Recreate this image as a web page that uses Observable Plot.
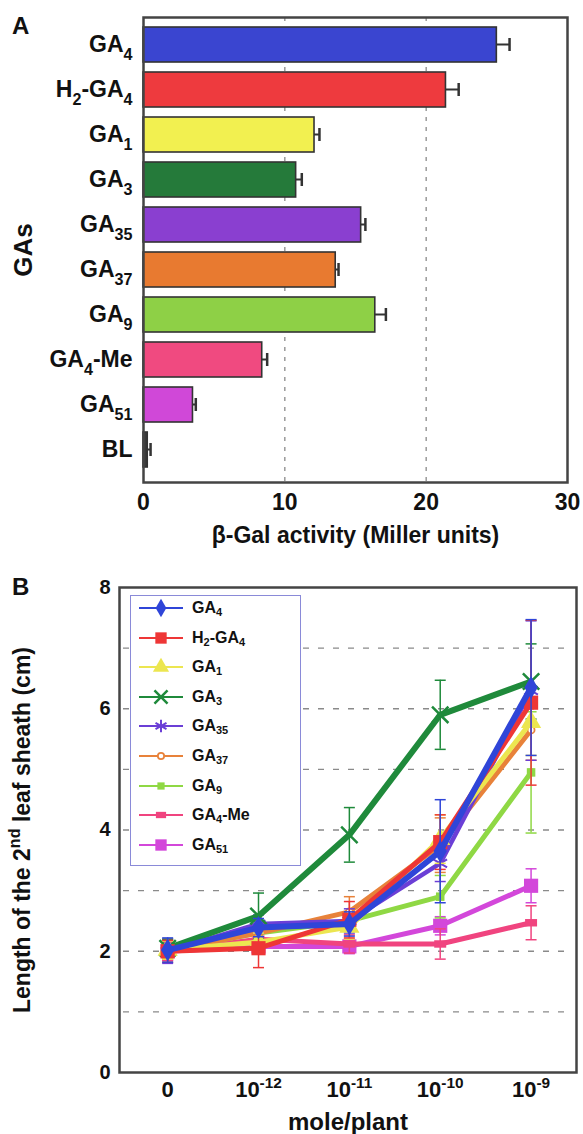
<!DOCTYPE html>
<html><head><meta charset="utf-8">
<script src="https://cdn.jsdelivr.net/npm/d3@7"></script>
<script src="https://cdn.jsdelivr.net/npm/@observablehq/plot@0.6"></script>
<style>
body{margin:0;background:#fff;font-family:"Liberation Sans",Arial,sans-serif;color:#111;}
#wrap{position:relative;width:583px;height:1134px;overflow:hidden;}
#wrap svg{display:block;}
.letter{position:absolute;font-weight:bold;font-size:24px;line-height:1;}
#legend{position:absolute;left:130px;top:595px;width:171px;height:271px;border:1px solid #8a8ad8;box-sizing:border-box;background:#fff;}
.lrow{position:absolute;left:0;height:24px;width:168px;}
.lrow svg{position:absolute;left:0;top:0;}
.lrow span{position:absolute;left:61px;top:3px;font-weight:bold;font-size:16px;white-space:nowrap;}
.lrow sub{font-size:11px;vertical-align:-3px;line-height:0;}
</style></head><body><div id="wrap"></div>
<script>
// ---------- Panel A data ----------
const gaNames = ["GA4","H2-GA4","GA1","GA3","GA35","GA37","GA9","GA4-Me","GA51","BL"];
const galActivity = [25.0, 21.4, 12.1, 10.8, 15.4, 13.6, 16.4, 8.4, 3.5, 0.3];
const galError = [0.9, 0.9, 0.35, 0.4, 0.3, 0.2, 0.75, 0.35, 0.2, 0.2];
const barColors = ["#3a45d0","#ee3a3e","#f2f050","#257a3a","#8a3fd0","#e87a30","#8ed046","#f04a80","#d048d8","#3a3a3a"];
const galTicks = [0, 10, 20, 30];
const galGrid = [10, 20];

// ---------- Panel B data ----------
const doseIdx = [0, 1, 2, 3, 4];
const doseBase = ["0", "10", "10", "10", "10"];
const doseExp = ["", "-12", "-11", "-10", "-9"];
const lenTicks = [0, 2, 4, 6, 8];
const lenGrid = [1, 2, 3, 4, 5, 6, 7];
const seriesNames = ["GA4","H2-GA4","GA1","GA3","GA35","GA37","GA9","GA4-Me","GA51"];
const seriesColors = ["#2f45d8","#ee3636","#ece650","#1f8a3b","#6b3fd6","#e8823a","#8fd844","#f0447f","#d347da"];
const lenGA4   = [2.02, 2.39, 2.45, 3.65, 6.35];
const errGA4   = [0.20, 0.15, 0.20, 0.85, 1.12];
const lenH2GA4 = [2.00, 2.05, 2.52, 3.80, 6.10];
const errH2GA4 = [0.18, 0.32, 0.30, 0.45, 1.36];
const lenGA1   = [2.02, 2.15, 2.40, 3.85, 5.78];
const errGA1   = [0.15, 0.15, 0.20, 0.40, 0.55];
const lenGA3   = [2.05, 2.58, 3.92, 5.90, 6.45];
const errGA3   = [0.15, 0.38, 0.45, 0.57, 0.62];
const lenGA35  = [2.00, 2.45, 2.50, 3.45, 6.30];
const errGA35  = [0.20, 0.15, 0.20, 0.30, 1.15];
const lenGA37  = [2.02, 2.30, 2.65, 3.75, 5.65];
const errGA37  = [0.15, 0.20, 0.25, 0.45, 0.50];
const lenGA9   = [2.03, 2.30, 2.50, 2.90, 4.95];
const errGA9   = [0.15, 0.10, 0.15, 0.35, 1.00];
const lenGA4Me = [2.00, 2.20, 2.12, 2.12, 2.47];
const errGA4Me = [0.15, 0.15, 0.15, 0.25, 0.28];
const lenGA51  = [2.00, 2.08, 2.08, 2.42, 3.08];
const errGA51  = [0.15, 0.10, 0.12, 0.15, 0.28];
const seriesLen = [lenGA4, lenH2GA4, lenGA1, lenGA3, lenGA35, lenGA37, lenGA9, lenGA4Me, lenGA51];
const seriesErr = [errGA4, errH2GA4, errGA1, errGA3, errGA35, errGA37, errGA9, errGA4Me, errGA51];

// ---------- styles ----------
const FONT = "Liberation Sans, Arial, Helvetica, sans-serif";
const hLine = {draw(ctx, size){const r = Math.sqrt(size/Math.PI); ctx.moveTo(-r,0); ctx.lineTo(r,0);}};
const wideRect = {draw(ctx, size){const r = Math.sqrt(size/Math.PI); ctx.rect(-r, -r*0.62, 2*r, 1.24*r);}};
const markerStyle = [
  {symbol:"diamond", r:7, filled:true},
  {symbol:"square", r:8, filled:true},
  {symbol:"triangle", r:7.5, filled:true},
  {symbol:"times", r:7.5, filled:false, sw:2.5},
  {symbol:"asterisk", r:7.5, filled:false, sw:2},
  {symbol:"circle", r:3.5, filled:false, sw:1.8, bg:"#fff"},
  {symbol:"square", r:4.8, filled:true},
  {symbol:wideRect, r:6, filled:true},
  {symbol:"square", r:8, filled:true}
];
const lineW = [6, 5, 5, 6, 4.5, 5, 5, 5, 5];

// rich text helper (sub/superscripts as tspans)
const SVGNS = "http://www.w3.org/2000/svg";
function setRich(el, segs, fs) {
  el.textContent = "";
  let shift = 0;
  for (const s of segs) {
    const ts = document.createElementNS(SVGNS, "tspan");
    const target = s.sub ? fs*0.32 : s.sup ? -fs*0.42 : 0;
    ts.setAttribute("dy", (target - shift).toFixed(2));
    shift = target;
    if (s.sub || s.sup) ts.setAttribute("font-size", (fs*0.7).toFixed(1));
    ts.textContent = s.t;
    el.appendChild(ts);
  }
}
const subSegs = str => str.split(/(\d+)/).filter(p => p.length).map(p => /^\d+$/.test(p) ? {t:p, sub:true} : {t:p});

const wrap = document.getElementById("wrap");

// ---------- Panel A ----------
const tableA = gaNames.map((n,i) => ({name:n, value:galActivity[i], err:galError[i], color:barColors[i]}));
const plotA = Plot.plot({
  width:583, height:560, marginTop:17, marginBottom:78, marginLeft:143, marginRight:16,
  style:{fontFamily:FONT, fontWeight:"bold", fontSize:"22px", color:"#111", background:"#fff", overflow:"visible"},
  x:{domain:[0,30]},
  y:{domain:gaNames, paddingInner:0.23, paddingOuter:0.23, align:0.38},
  marks:[
    Plot.ruleX(galGrid, {stroke:"#8a8a8a", strokeWidth:1.3, strokeDasharray:"4,6"}),
    Plot.barX(tableA, {y:"name", x1:"value", x2:d => d.value + d.err, fill:"#333", insetTop:16.5, insetBottom:16.5}),
    Plot.tickX(tableA, {y:"name", x:d => d.value + d.err, stroke:"#333", strokeWidth:2.5, insetTop:11, insetBottom:11}),
    Plot.barX(tableA, {y:"name", x:"value", fill:"color", stroke:"#333", strokeWidth:1.6}),
    Plot.frame({stroke:"#444", strokeWidth:2.5}),
    Plot.axisX({ticks:galTicks, tickSize:0, tickPadding:11, fontSize:23, label:"β-Gal activity (Miller units)", labelAnchor:"center", labelOffset:60, labelArrow:"none"}),
    Plot.axisY({tickSize:0, tickPadding:11, fontSize:23, label:"GAs", labelAnchor:"center", labelOffset:130, labelArrow:"none"})
  ]
});
wrap.appendChild(plotA);
d3.select(plotA).selectAll('[aria-label="y-axis tick label"] text').each(function(){
  setRich(this, subSegs(this.textContent), 23);
});
d3.select(plotA).selectAll('[aria-label="x-axis label"] text').attr("font-size", 23);
d3.select(plotA).selectAll('[aria-label="y-axis label"] text').attr("font-size", 26);

// ---------- Panel B ----------
const tableB = [];
seriesNames.forEach((n,i) => doseIdx.forEach((d,j) => tableB.push({series:n, dose:d, len:seriesLen[i][j], err:seriesErr[i][j]})));
const marksB = [Plot.ruleY(lenGrid, {stroke:"#8a8a8a", strokeWidth:1.3, strokeDasharray:"6,9", insetLeft:4, insetRight:9})];
for (let i = seriesNames.length - 1; i >= 0; i--) {
  const rows = tableB.filter(d => d.series === seriesNames[i]);
  const c = seriesColors[i], ms = markerStyle[i];
  marksB.push(
    Plot.ruleX(rows, {x:"dose", y1:d => d.len - d.err, y2:d => d.len + d.err, stroke:c, strokeWidth:1.5}),
    Plot.dot(rows, {x:"dose", y:d => d.len + d.err, symbol:hLine, r:5.5, stroke:c, strokeWidth:1.5, fill:"none"}),
    Plot.dot(rows, {x:"dose", y:d => d.len - d.err, symbol:hLine, r:5.5, stroke:c, strokeWidth:1.5, fill:"none"}),
    Plot.line(rows, {x:"dose", y:"len", stroke:c, strokeWidth:lineW[i]}),
    Plot.dot(rows, {x:"dose", y:"len", symbol:ms.symbol, r:ms.r,
      fill: ms.filled ? c : (ms.bg || "none"), stroke: ms.filled ? "none" : c, strokeWidth: ms.sw || 1})
  );
}
marksB.push(
  Plot.frame({stroke:"#444", strokeWidth:2.5}),
  Plot.axisX({ticks:doseIdx, tickFormat:i => doseBase[i] + "|" + doseExp[i], tickSize:0, tickPadding:9, fontSize:22,
    label:"mole/plant", labelAnchor:"center", labelOffset:57, labelArrow:"none"}),
  Plot.axisY({ticks:lenTicks, tickSize:0, tickPadding:9, fontSize:20,
    label:"Length of the 2nd leaf sheath (cm)", labelAnchor:"center", labelOffset:106, labelArrow:"none"})
);
const plotB = Plot.plot({
  width:583, height:574, marginTop:27, marginBottom:62, marginLeft:119, marginRight:7,
  style:{fontFamily:FONT, fontWeight:"bold", fontSize:"20px", color:"#111", background:"#fff", overflow:"visible"},
  x:{domain:[-0.53, 4.5]},
  y:{domain:[0, 8]},
  marks: marksB
});
wrap.appendChild(plotB);
d3.select(plotB).selectAll('[aria-label="x-axis tick label"] text').each(function(){
  const [b, e] = this.textContent.split("|");
  setRich(this, e ? [{t:b}, {t:e, sup:true}] : [{t:b}], 22);
});
d3.select(plotB).selectAll('[aria-label="x-axis label"] text').attr("font-size", 24);
d3.select(plotB).selectAll('[aria-label="y-axis label"] text').attr("font-size", 23).each(function(){
  setRich(this, [{t:"Length of the 2"}, {t:"nd", sup:true}, {t:" leaf sheath (cm)"}], 23);
});

// ---------- panel letters ----------
const la = document.createElement("div"); la.className = "letter"; la.textContent = "A";
la.style.left = "12px"; la.style.top = "14px"; wrap.appendChild(la);
const lb = document.createElement("div"); lb.className = "letter"; lb.textContent = "B";
lb.style.left = "12px"; lb.style.top = "575px"; wrap.appendChild(lb);

// ---------- legend (panel B) ----------
const symTypes = {diamond:d3.symbolDiamond, square:d3.symbolSquare, triangle:d3.symbolTriangle,
  times:d3.symbolTimes, asterisk:d3.symbolAsterisk, circle:d3.symbolCircle};
const legendScale = [0.8, 0.8, 0.8, 0.8, 0.8, 0.9, 0.85, 0.85, 0.8];
const legend = d3.select(wrap).append("div").attr("id", "legend");
seriesNames.forEach((n,i) => {
  const ms = markerStyle[i], c = seriesColors[i];
  const row = legend.append("div").attr("class", "lrow").style("top", (0 + i*29.6) + "px");
  const s = row.append("svg").attr("width", 60).attr("height", 24);
  s.append("line").attr("x1", 8).attr("x2", 52).attr("y1", 12).attr("y2", 12).attr("stroke", c).attr("stroke-width", 2);
  const r = ms.r * legendScale[i];
  const type = typeof ms.symbol === "string" ? symTypes[ms.symbol] : ms.symbol;
  s.append("path").attr("transform", "translate(30,12)")
    .attr("d", d3.symbol().type(type).size(Math.PI*r*r)())
    .attr("fill", ms.filled ? c : (ms.bg || "none"))
    .attr("stroke", ms.filled ? "none" : c).attr("stroke-width", ms.sw || 1);
  const parts = n.split(/(\d+)/).filter(p => p.length);
  const span = row.append("span");
  parts.forEach(p => { if (/^\d+$/.test(p)) span.append("sub").text(p); else span.append("tspan").text(p); });
});
</script></body></html>
